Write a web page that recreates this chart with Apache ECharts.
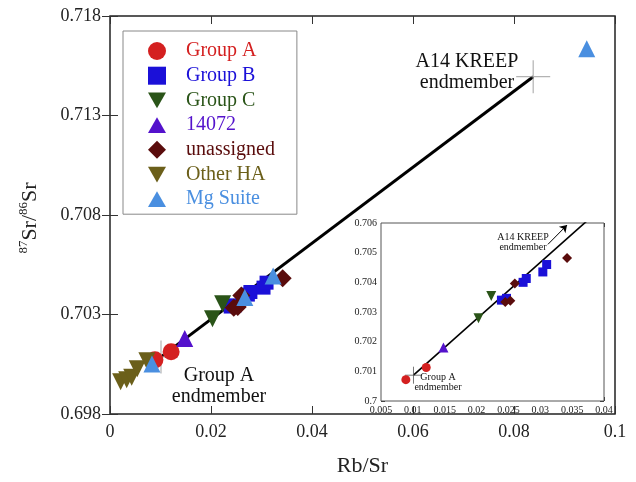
<!DOCTYPE html>
<html>
<head>
<meta charset="utf-8">
<script src="https://cdn.jsdelivr.net/npm/echarts@6/dist/echarts.min.js"></script>
<style>
html, body { margin: 0; padding: 0; background: #ffffff; }
#chart { width: 636px; height: 482px; }
</style>
</head>
<body>
<div id="chart"></div>
<script>
// Rb/Sr against 87Sr/86Sr
const groupAX = [0.0089, 0.0121];
const groupAY = [0.70072, 0.70113];
const groupBX = [0.0239, 0.0247, 0.0273, 0.0278, 0.0304, 0.0310];
const groupBY = [0.70340, 0.70346, 0.70400, 0.70413, 0.70435, 0.70460];
const groupCX = [0.0203, 0.0223];
const groupCY = [0.70279, 0.70354];
const s14072X = [0.0148];
const s14072Y = [0.70180];
const unassignedX = [0.0245, 0.0253, 0.0260, 0.0342];
const unassignedY = [0.70334, 0.70338, 0.70396, 0.70482];
const otherHAX = [0.0021, 0.0033, 0.0043, 0.0054, 0.0073];
const otherHAY = [0.69962, 0.69972, 0.69985, 0.70028, 0.70067];
const mgSuiteX = [0.0083, 0.0267, 0.0323, 0.0944];
const mgSuiteY = [0.70051, 0.70386, 0.70493, 0.71635];

// mixing line between the two endmembers
const endmemberX = [0.0101, 0.0838];
const endmemberY = [0.70087, 0.71495];

// arrow next to the KREEP note in the inset
const arrowX = [0.0312, 0.0342];
const arrowY = [0.70528, 0.70593];

const legendNames = ['Group A', 'Group B', 'Group C', '14072', 'unassigned', 'Other HA', 'Mg Suite'];
const colors = ['#d42020', '#1b10d8', '#2a5418', '#5412cc', '#5a0c0c', '#6b5f1a', '#4a8fe0'];

const downTri = 'path://M0,0L2,0L1,1.75Z';
const upTri = 'path://M1,0L2,1.75L0,1.75Z';
const cross = 'path://M1,0L1,2M0,1L2,1';

const pairs = (xs, ys) => xs.map((x, i) => [x, ys[i]]);
const fmt = (v) => String(parseFloat(v.toFixed(3)));
const serif = 'Liberation Serif';

const groups = [
  { name: 'Group A', xs: groupAX, ys: groupAY, symbol: 'circle', size: 17, small: 9 },
  { name: 'Group B', xs: groupBX, ys: groupBY, symbol: 'rect', size: 14, small: 9 },
  { name: 'Group C', xs: groupCX, ys: groupCY, symbol: downTri, size: 17, small: 10 },
  { name: '14072', xs: s14072X, ys: s14072Y, symbol: upTri, size: 17, small: 10 },
  { name: 'unassigned', xs: unassignedX, ys: unassignedY, symbol: 'diamond', size: 18, small: 10 },
  { name: 'Other HA', xs: otherHAX, ys: otherHAY, symbol: downTri, size: 17, small: 0 },
  { name: 'Mg Suite', xs: mgSuiteX, ys: mgSuiteY, symbol: upTri, size: 17, small: 0 },
];

function frameAxes(grid, min, max, interval, tickLen, fontSize, isX) {
  const base = {
    gridIndex: grid, type: 'value', min: min, max: max, interval: interval,
    axisLine: { show: false },
    axisTick: { inside: true, length: tickLen, lineStyle: { color: '#333', width: 1 } },
    splitLine: { show: false },
  };
  const main = Object.assign({}, base, {
    position: isX ? 'bottom' : 'left',
    axisLabel: { fontFamily: serif, fontSize: fontSize, color: '#222', margin: grid === 0 ? 9 : 4, formatter: fmt },
  });
  const other = Object.assign({}, base, {
    position: isX ? 'top' : 'right',
    axisLabel: { show: false },
  });
  return [main, other];
}

const xAxes = [
  ...frameAxes(0, 0, 0.1, 0.02, 8, 18, true),
  ...frameAxes(1, 0.005, 0.04, 0.005, 4, 10, true),
];
const yAxes = [
  ...frameAxes(0, 0.698, 0.718, 0.005, 8, 18, false),
  ...frameAxes(1, 0.7, 0.706, 0.001, 4, 10, false),
];
xAxes[0].name = 'Rb/Sr';
xAxes[0].nameLocation = 'middle';
xAxes[0].nameGap = 41;
xAxes[0].nameTextStyle = { fontFamily: serif, fontSize: 22, color: '#222' };

const series = [];
// main panel
series.push({
  type: 'line', xAxisIndex: 0, yAxisIndex: 0, data: pairs(endmemberX, endmemberY),
  showSymbol: false, lineStyle: { color: '#000', width: 3 }, silent: true, z: 1,
});
series.push({
  type: 'scatter', xAxisIndex: 0, yAxisIndex: 0, data: pairs(endmemberX, endmemberY),
  symbol: cross, symbolSize: [34, 33],
  itemStyle: { color: 'rgba(0,0,0,0)', borderColor: '#a0a0a0', borderWidth: 1.2 }, z: 1,
});
groups.forEach((g, i) => {
  series.push({
    name: g.name, type: 'scatter', xAxisIndex: 0, yAxisIndex: 0, data: pairs(g.xs, g.ys),
    symbol: g.symbol, symbolSize: g.size, itemStyle: { color: colors[i], opacity: 1 }, z: 3,
  });
});
// inset panel
series.push({
  type: 'line', xAxisIndex: 2, yAxisIndex: 2, data: pairs(endmemberX, endmemberY),
  showSymbol: false, clip: true, lineStyle: { color: '#000', width: 1.6 }, silent: true, z: 5,
  markLine: {
    silent: true, symbol: ['none', 'arrow'], symbolSize: 7,
    lineStyle: { color: '#000', width: 1, type: 'solid' }, label: { show: false },
    data: [[{ coord: [arrowX[0], arrowY[0]] }, { coord: [arrowX[1], arrowY[1]] }]],
  },
});
series.push({
  type: 'scatter', xAxisIndex: 2, yAxisIndex: 2, data: [[endmemberX[0], endmemberY[0]]],
  symbol: cross, symbolSize: 17,
  itemStyle: { color: 'rgba(0,0,0,0)', borderColor: '#555', borderWidth: 1 }, z: 5,
});
groups.forEach((g, i) => {
  if (!g.small) return;
  series.push({
    name: g.name, type: 'scatter', xAxisIndex: 2, yAxisIndex: 2, data: pairs(g.xs, g.ys),
    symbol: g.symbol, symbolSize: g.small, itemStyle: { color: colors[i], opacity: 1 }, z: 6,
  });
});

const chart = echarts.init(document.getElementById('chart'), null, { renderer: 'canvas' });
chart.setOption({
  animation: false,
  backgroundColor: '#ffffff',
  grid: [
    { left: 110, top: 16, width: 505, height: 404, show: true, borderColor: '#222', borderWidth: 1.5, backgroundColor: '#fff', containLabel: false },
    { left: 381, top: 223, width: 223, height: 178, show: true, borderColor: '#555', borderWidth: 1, backgroundColor: '#fff', containLabel: false, z: 4 },
  ],
  xAxis: xAxes,
  yAxis: yAxes,
  legend: {
    orient: 'vertical', left: 123, top: 31, padding: [10, 22, 5, 25],
    itemWidth: 18, itemHeight: 18, itemGap: 4.7,
    borderColor: '#888', borderWidth: 1, backgroundColor: '#fff',
    textStyle: { fontFamily: serif, fontSize: 20, padding: [0, 0, 0, 15] },
    data: legendNames.map((n, i) => ({ name: n, textStyle: { color: colors[i] } })),
    selectedMode: false,
  },
  graphic: [
    {
      type: 'text', x: 30, y: 218, rotation: Math.PI / 2, z: 100,
      style: {
        text: '{s|87}{n|Sr/}{s|86}{n|Sr}', align: 'center', verticalAlign: 'middle',
        rich: {
          n: { fontFamily: serif, fontSize: 22, fill: '#222', lineHeight: 26 },
          s: { fontFamily: serif, fontSize: 13, fill: '#222', verticalAlign: 'top', lineHeight: 26 },
        },
      },
    },
    {
      type: 'text', x: 467, y: 72, z: 100,
      style: { text: 'A14 KREEP\nendmember', fontFamily: serif, fontSize: 20, lineHeight: 21, fill: '#111', align: 'center', verticalAlign: 'middle' },
    },
    {
      type: 'text', x: 219, y: 386, z: 100,
      style: { text: 'Group A\nendmember', fontFamily: serif, fontSize: 20, lineHeight: 21, fill: '#111', align: 'center', verticalAlign: 'middle' },
    },
    {
      type: 'text', x: 523, y: 242, z: 100,
      style: { text: 'A14 KREEP\nendmember', fontFamily: serif, fontSize: 10, lineHeight: 10, fill: '#111', align: 'center', verticalAlign: 'middle' },
    },
    {
      type: 'text', x: 438, y: 382, z: 100,
      style: { text: 'Group A\nendmember', fontFamily: serif, fontSize: 10, lineHeight: 10, fill: '#111', align: 'center', verticalAlign: 'middle' },
    },
  ],
  series: series,
});
</script>
</body>
</html>
